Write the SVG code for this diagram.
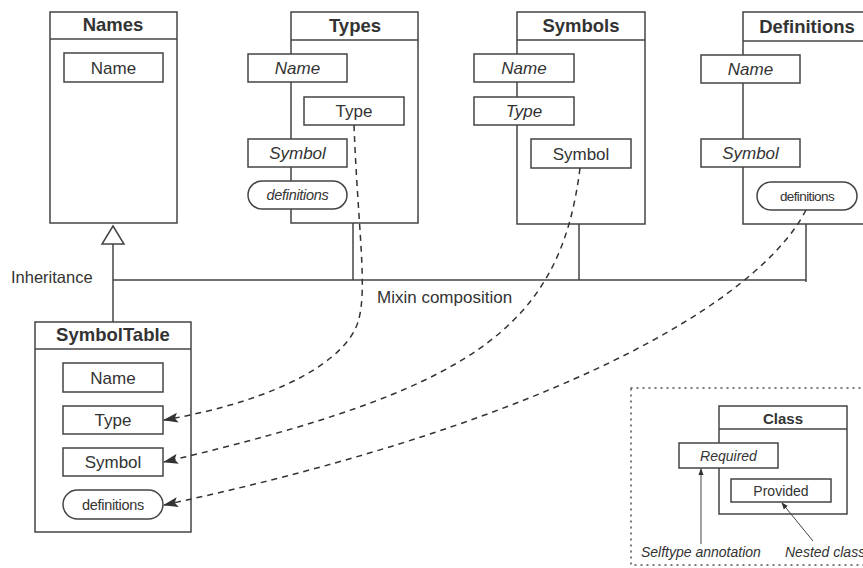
<svg xmlns="http://www.w3.org/2000/svg" width="863" height="568" viewBox="0 0 863 568">
<defs>
<marker id="ah" viewBox="0 0 15 10" refX="14" refY="5" markerWidth="15" markerHeight="10" markerUnits="userSpaceOnUse" orient="auto">
<path d="M0,0 L15,5 L0,10 L3,5 Z" fill="#333"/>
</marker>
<marker id="sa" viewBox="0 0 8 8" refX="7" refY="4" markerWidth="7" markerHeight="7" markerUnits="userSpaceOnUse" orient="auto">
<path d="M0,1 L8,4 L0,7 Z" fill="#333"/>
</marker>
</defs>
<style>
.box{fill:#fff;stroke:#444;stroke-width:1.5}
.ln{fill:none;stroke:#444;stroke-width:1.5}
.dash{fill:none;stroke:#333;stroke-width:1.5;stroke-dasharray:6 5}
.thin{fill:none;stroke:#444;stroke-width:1}
text{font-family:"Liberation Sans",Arial,sans-serif;fill:#333}
.title{font-size:18.5px;font-weight:bold;text-anchor:middle}
.lbl{font-size:17px;text-anchor:middle}
.it{font-size:17px;font-style:italic;text-anchor:middle}
.pill{font-size:14.5px;text-anchor:middle;letter-spacing:-0.3px}
.cap{font-size:16px}
</style>
<rect width="863" height="568" fill="#fff"/>

<g id="Names">
<rect class="box" x="50" y="12" width="127" height="211"/>
<line class="ln" x1="50" y1="39" x2="177" y2="39"/>
<text class="title" x="113" y="31">Names</text>
<rect class="box" x="64" y="53" width="99" height="29"/>
<text class="lbl" x="113.5" y="74">Name</text>
</g>

<g id="Types">
<rect class="box" x="291" y="12" width="127" height="211"/>
<line class="ln" x1="291" y1="40" x2="418" y2="40"/>
<text class="title" x="355" y="32">Types</text>
<rect class="box" x="248" y="54" width="99" height="28"/>
<text class="it" x="297.5" y="74">Name</text>
<rect class="box" x="304" y="97" width="100" height="28"/>
<text class="lbl" x="354" y="117">Type</text>
<rect class="box" x="248" y="139" width="99" height="28"/>
<text class="it" x="297.5" y="159">Symbol</text>
<rect class="box" x="248" y="181" width="99" height="28" rx="14" ry="14"/>
<text class="pill" x="297.5" y="200" font-style="italic">definitions</text>
</g>

<g id="Symbols">
<rect class="box" x="517" y="12" width="128" height="212"/>
<line class="ln" x1="517" y1="40" x2="645" y2="40"/>
<text class="title" x="581" y="32">Symbols</text>
<rect class="box" x="474" y="54" width="100" height="28"/>
<text class="it" x="524" y="74">Name</text>
<rect class="box" x="474" y="97" width="100" height="28"/>
<text class="it" x="524" y="117">Type</text>
<rect class="box" x="531" y="139" width="100" height="29"/>
<text class="lbl" x="581" y="160">Symbol</text>
</g>

<g id="Definitions">
<rect class="box" x="743" y="12" width="130" height="212"/>
<line class="ln" x1="743" y1="41" x2="873" y2="41"/>
<text class="title" x="807" y="33">Definitions</text>
<rect class="box" x="701" y="55" width="99" height="28"/>
<text class="it" x="750.5" y="75">Name</text>
<rect class="box" x="701" y="139" width="99" height="28"/>
<text class="it" x="750.5" y="159">Symbol</text>
<rect class="box" x="757" y="182" width="100" height="28" rx="14" ry="14"/>
<text class="pill" x="807" y="201" style="font-size:13.5px;letter-spacing:-0.6px">definitions</text>
</g>

<g id="SymbolTable">
<rect class="box" x="35" y="322" width="156" height="210"/>
<line class="ln" x1="35" y1="349" x2="191" y2="349"/>
<text class="title" x="113" y="341">SymbolTable</text>
<rect class="box" x="63" y="363" width="100" height="29"/>
<text class="lbl" x="113" y="384">Name</text>
<rect class="box" x="63" y="406" width="100" height="28"/>
<text class="lbl" x="113" y="426">Type</text>
<rect class="box" x="63" y="448" width="100" height="28"/>
<text class="lbl" x="113" y="468">Symbol</text>
<rect class="box" x="63" y="490" width="100" height="29" rx="14.5" ry="14.5"/>
<text class="pill" x="113" y="510">definitions</text>
</g>

<g id="connectors">
<polyline class="ln" points="113,244 113,322"/>
<polyline class="ln" points="113,280 806,280"/>
<line class="ln" x1="353" y1="223" x2="353" y2="280"/>
<line class="ln" x1="579" y1="224" x2="579" y2="280"/>
<line class="ln" x1="806" y1="224" x2="806" y2="282"/>
<path class="box" d="M113,226 L124,244 L102,244 Z"/>
<path class="dash" d="M354,125 C358,230 368,290 358,322 C346,360 280,400 164,420" marker-end="url(#ah)"/>
<path class="dash" d="M580,168 C560,330 470,390 164,462" marker-end="url(#ah)"/>
<path class="dash" d="M806,210 C760,300 560,420 164,505" marker-end="url(#ah)"/>
</g>

<g id="labels">
<text class="cap" x="11" y="283" style="font-size:16.5px">Inheritance</text>
<text class="cap" x="377" y="303" style="font-size:17px">Mixin composition</text>
</g>

<g id="legend">
<rect x="631" y="388" width="250" height="177" fill="none" stroke="#555" stroke-width="1.5" stroke-dasharray="1 5" stroke-linecap="round"/>
<rect class="box" x="719" y="406" width="128" height="108"/>
<line class="ln" x1="719" y1="429" x2="847" y2="429"/>
<text class="title" x="783" y="424" style="font-size:15px">Class</text>
<rect class="box" x="679" y="443" width="99" height="25"/>
<text class="it" x="728.5" y="461" style="font-size:14px">Required</text>
<rect class="box" x="731" y="479" width="100" height="23"/>
<text class="lbl" x="781" y="496" style="font-size:14px">Provided</text>
<line class="thin" x1="701" y1="544" x2="701" y2="469" marker-end="url(#sa)"/>
<line class="thin" x1="813" y1="541" x2="782" y2="503" marker-end="url(#sa)"/>
<text class="cap" x="641" y="557" font-style="italic" style="font-size:14px">Selftype annotation</text>
<text class="cap" x="785" y="557" font-style="italic" style="font-size:14px">Nested class</text>
</g>
</svg>
